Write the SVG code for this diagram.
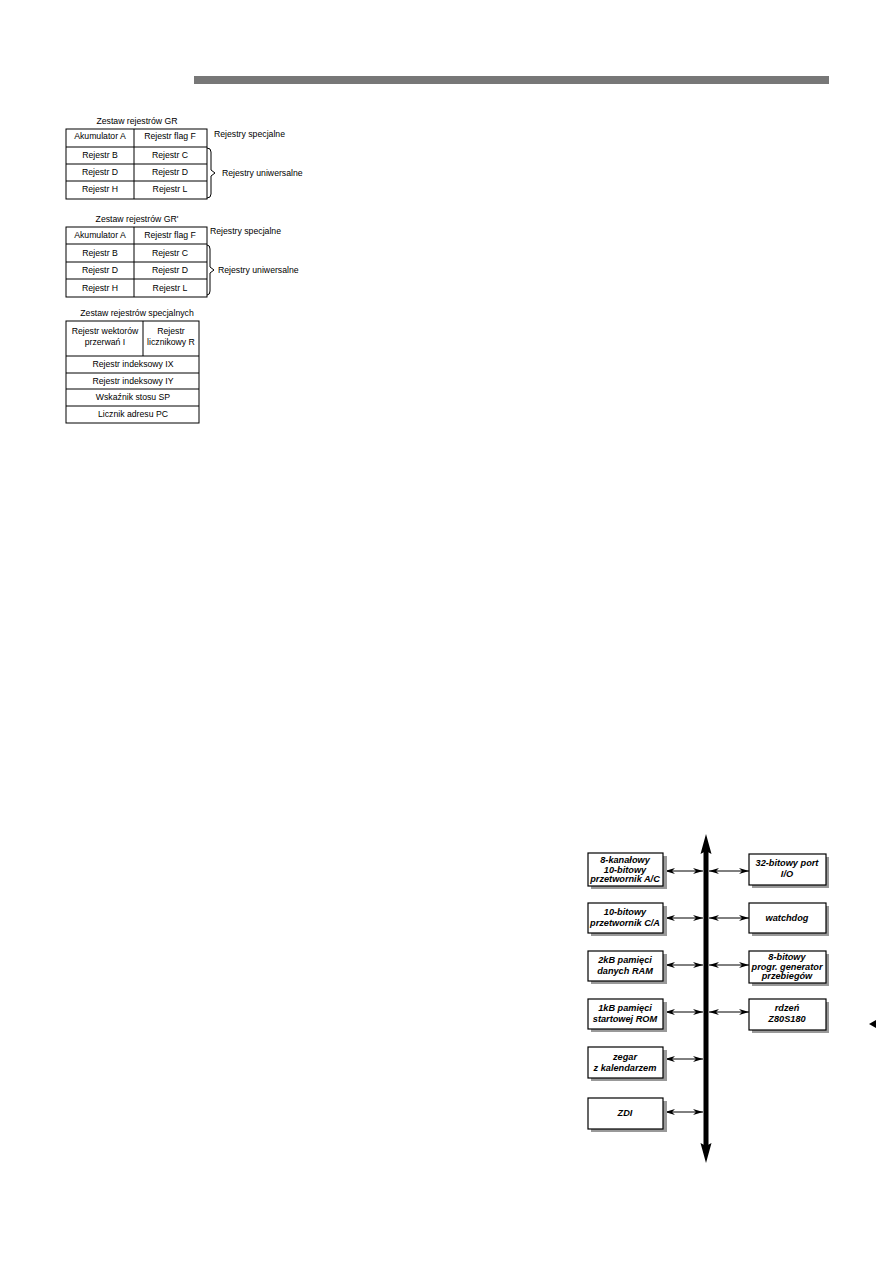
<svg xmlns="http://www.w3.org/2000/svg" width="893" height="1263" viewBox="0 0 893 1263">
<style>
.t{font-family:"Liberation Sans",Arial,sans-serif;font-size:8.7px;fill:#000;text-anchor:middle}
.l{font-family:"Liberation Sans",Arial,sans-serif;font-size:8.7px;fill:#000}
.b{font-family:"Liberation Sans",Arial,sans-serif;font-size:9.2px;font-weight:bold;font-style:italic;fill:#000;text-anchor:middle}
.cell{fill:#fff;stroke:#000;stroke-width:1}
.ln{stroke:#000;stroke-width:1;fill:none}
.box{fill:#fff;stroke:#000;stroke-width:1.2}
.sh{fill:#999}
.con{stroke:#000;stroke-width:1;fill:none;marker-start:url(#ah);marker-end:url(#ah)}
</style>
<defs>
<marker id="ah" viewBox="0 0 10 10" refX="10" refY="5" markerWidth="10" markerHeight="6" markerUnits="userSpaceOnUse" orient="auto-start-reverse" preserveAspectRatio="none">
<path d="M0,0 L10,5 L0,10 L3,5 Z" fill="#000"/>
</marker>
</defs>
<rect x="194" y="76" width="635" height="8" fill="#777"/>

<g id="gr">
<text class="t" x="137" y="124">Zestaw rejestrów GR</text>
<rect class="cell" x="66" y="129" width="141" height="70"/>
<path class="ln" d="M66,147H207M66,164H207M66,181H207M134,129V199"/>
<text class="t" x="100" y="139">Akumulator A</text>
<text class="t" x="170" y="139">Rejestr flag F</text>
<text class="t" x="100" y="158">Rejestr B</text>
<text class="t" x="170" y="158">Rejestr C</text>
<text class="t" x="100" y="175">Rejestr D</text>
<text class="t" x="170" y="175">Rejestr D</text>
<text class="t" x="100" y="192">Rejestr H</text>
<text class="t" x="170" y="192">Rejestr L</text>
<text class="l" x="214" y="137">Rejestry specjalne</text>
<path class="ln" d="M207,148q4,0 4,4v18l4,3l-4,3v18q0,4 -4,4"/>
<text class="l" x="222" y="176">Rejestry uniwersalne</text>
</g>

<g id="gr2">
<text class="t" x="137" y="222">Zestaw rejestrów GR'</text>
<rect class="cell" x="66" y="227" width="141" height="70"/>
<path class="ln" d="M66,244H207M66,262H207M66,279H207M134,227V297"/>
<text class="t" x="100" y="238">Akumulator A</text>
<text class="t" x="170" y="238">Rejestr flag F</text>
<text class="t" x="100" y="256">Rejestr B</text>
<text class="t" x="170" y="256">Rejestr C</text>
<text class="t" x="100" y="273">Rejestr D</text>
<text class="t" x="170" y="273">Rejestr D</text>
<text class="t" x="100" y="291">Rejestr H</text>
<text class="t" x="170" y="291">Rejestr L</text>
<text class="l" x="210" y="234">Rejestry specjalne</text>
<path class="ln" d="M207,245q3,0 3,4v18l4,3l-4,3v18q0,4 -3,4"/>
<text class="l" x="218" y="273">Rejestry uniwersalne</text>
</g>

<g id="spec">
<text class="t" x="137" y="316">Zestaw rejestrów specjalnych</text>
<rect class="cell" x="66" y="321" width="133" height="102"/>
<path class="ln" d="M66,356H199M66,373H199M66,389H199M66,406H199M143,321V356"/>
<text class="t" x="105" y="334">Rejestr wektorów</text>
<text class="t" x="105" y="345">przerwań I</text>
<text class="t" x="171" y="334">Rejestr</text>
<text class="t" x="171" y="345">licznikowy R</text>
<text class="t" x="133" y="367">Rejestr indeksowy IX</text>
<text class="t" x="133" y="384">Rejestr indeksowy IY</text>
<text class="t" x="133" y="400">Wskaźnik stosu SP</text>
<text class="t" x="133" y="417">Licznik adresu PC</text>
</g>

<g id="connectors">
<line x1="706" y1="1148" x2="706" y2="848" stroke="#000" stroke-width="5"/>
<polygon points="706,834 711.5,854 706,851 700.5,854" fill="#000"/>
<polygon points="706,1163 711.5,1143 706,1146 700.5,1143" fill="#000"/>
<line class="con" x1="665" y1="871" x2="703" y2="871"/>
<line class="con" x1="709" y1="871" x2="749" y2="871"/>
<line class="con" x1="665" y1="918" x2="703" y2="918"/>
<line class="con" x1="709" y1="918" x2="749" y2="918"/>
<line class="con" x1="665" y1="965" x2="703" y2="965"/>
<line class="con" x1="709" y1="965" x2="749" y2="965"/>
<line class="con" x1="665" y1="1012" x2="703" y2="1012"/>
<line class="con" x1="709" y1="1012" x2="749" y2="1012"/>
<line class="con" x1="665" y1="1059" x2="703" y2="1059"/>
<line class="con" x1="665" y1="1112" x2="703" y2="1112"/>
</g>

<g id="adc">
<rect class="sh" x="591" y="856" width="76" height="33"/>
<rect class="box" x="588" y="853" width="75" height="33"/>
<text class="b" x="625" y="863">8-kanałowy</text>
<text class="b" x="625" y="872.5">10-bitowy</text>
<text class="b" x="625" y="882">przetwornik A/C</text>
</g>
<g id="dac">
<rect class="sh" x="591" y="906" width="76" height="30"/>
<rect class="box" x="588" y="903" width="75" height="30"/>
<text class="b" x="625" y="915">10-bitowy</text>
<text class="b" x="625" y="925.5">przetwornik C/A</text>
</g>
<g id="ram">
<rect class="sh" x="591" y="954" width="76" height="30"/>
<rect class="box" x="588" y="951" width="75" height="30"/>
<text class="b" x="625" y="963">2kB pamięci</text>
<text class="b" x="625" y="973.5">danych RAM</text>
</g>
<g id="rom">
<rect class="sh" x="591" y="1002" width="76" height="30"/>
<rect class="box" x="588" y="999" width="75" height="30"/>
<text class="b" x="625" y="1011">1kB pamięci</text>
<text class="b" x="625" y="1021.5">startowej ROM</text>
</g>
<g id="rtc">
<rect class="sh" x="591" y="1050" width="76" height="31"/>
<rect class="box" x="588" y="1047" width="75" height="31"/>
<text class="b" x="625" y="1060">zegar</text>
<text class="b" x="625" y="1070.5">z kalendarzem</text>
</g>
<g id="zdi">
<rect class="sh" x="591" y="1101" width="76" height="31"/>
<rect class="box" x="588" y="1098" width="75" height="31"/>
<text class="b" x="625" y="1116">ZDI</text>
</g>
<g id="port">
<rect class="sh" x="752" y="857" width="77" height="31"/>
<rect class="box" x="749" y="854" width="77" height="31"/>
<text class="b" x="787" y="866">32-bitowy port</text>
<text class="b" x="787" y="876.5">I/O</text>
</g>
<g id="wdt">
<rect class="sh" x="752" y="906" width="77" height="30"/>
<rect class="box" x="749" y="903" width="77" height="30"/>
<text class="b" x="787" y="921">watchdog</text>
</g>
<g id="pwm">
<rect class="sh" x="752" y="954" width="77" height="32"/>
<rect class="box" x="749" y="951" width="77" height="32"/>
<text class="b" x="787" y="960">8-bitowy</text>
<text class="b" x="787" y="969.5">progr. generator</text>
<text class="b" x="787" y="979">przebiegów</text>
</g>
<g id="core">
<rect class="sh" x="752" y="1002" width="77" height="31"/>
<rect class="box" x="749" y="999" width="77" height="31"/>
<text class="b" x="787" y="1011">rdzeń</text>
<text class="b" x="787" y="1021.5">Z80S180</text>
</g>
<polygon points="869,1024 876,1020 876,1028" fill="#000"/>
</svg>
